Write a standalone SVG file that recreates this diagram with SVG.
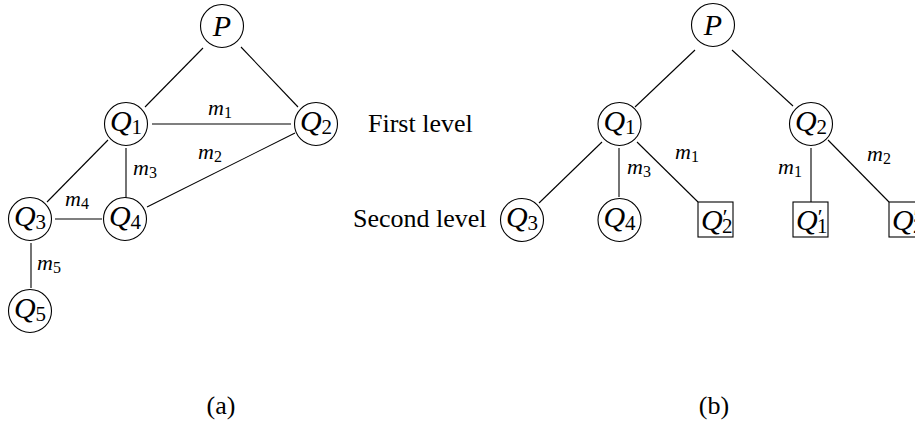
<svg xmlns="http://www.w3.org/2000/svg" width="915" height="426" viewBox="0 0 915 426">
  <style>
    .node { fill: #fff; stroke: #000; stroke-width: 1.1; }
    .edge { stroke: #000; stroke-width: 1.1; fill: none; }
    .var { font-family: "Liberation Serif", "DejaVu Serif", serif; font-style: italic; font-size: 30px; fill: #000; }
    .sub { font-family: "Liberation Serif", "DejaVu Serif", serif; font-style: normal; font-size: 21px; }
    .prime { font-family: "Liberation Serif", "DejaVu Serif", serif; font-style: normal; font-size: 22px; }
    .lbl { font-family: "Liberation Serif", "DejaVu Serif", serif; font-style: italic; font-size: 22px; fill: #000; }
    .lsub { font-family: "Liberation Serif", "DejaVu Serif", serif; font-style: normal; font-size: 16px; }
    .txt { font-family: "Liberation Serif", "DejaVu Serif", serif; font-size: 26px; fill: #000; }
  </style>
  <rect width="915" height="426" fill="#fff"/>

  <!-- (a) graph: connectors -->
  <g id="edges-a">
    <line class="edge" x1="203" y1="48" x2="145" y2="107"/>
    <line class="edge" x1="241" y1="47" x2="298" y2="107"/>
    <line class="edge" x1="152" y1="124" x2="291" y2="124"/>
    <line class="edge" x1="108" y1="140" x2="47" y2="202"/>
    <line class="edge" x1="126" y1="148" x2="126" y2="198"/>
    <line class="edge" x1="295" y1="133" x2="147" y2="207"/>
    <line class="edge" x1="55" y1="219" x2="102" y2="219"/>
    <line class="edge" x1="31" y1="243" x2="31" y2="288"/>
  </g>
  <g id="edge-labels-a">
    <text class="lbl" x="208" y="115">m<tspan class="lsub" dy="3">1</tspan></text>
    <text class="lbl" x="198" y="159">m<tspan class="lsub" dy="3">2</tspan></text>
    <text class="lbl" x="133" y="175">m<tspan class="lsub" dy="3">3</tspan></text>
    <text class="lbl" x="65" y="206">m<tspan class="lsub" dy="3">4</tspan></text>
    <text class="lbl" x="37" y="270">m<tspan class="lsub" dy="3">5</tspan></text>
  </g>

  <!-- (a) graph: nodes -->
  <g id="a-P"><circle class="node" cx="222" cy="26" r="21.5"/><text class="var" x="222" y="36" text-anchor="middle">P</text></g>
  <g id="a-Q1"><circle class="node" cx="126" cy="124" r="21.5"/><text class="var" x="126" y="131" text-anchor="middle">Q<tspan class="sub" dy="3">1</tspan></text></g>
  <g id="a-Q2"><circle class="node" cx="316" cy="124" r="21.5"/><text class="var" x="316" y="131" text-anchor="middle">Q<tspan class="sub" dy="3">2</tspan></text></g>
  <g id="a-Q3"><circle class="node" cx="30" cy="219" r="21.5"/><text class="var" x="30" y="226" text-anchor="middle">Q<tspan class="sub" dy="3">3</tspan></text></g>
  <g id="a-Q4"><circle class="node" cx="125" cy="219" r="21.5"/><text class="var" x="125" y="226" text-anchor="middle">Q<tspan class="sub" dy="3">4</tspan></text></g>
  <g id="a-Q5"><circle class="node" cx="30" cy="311" r="21.5"/><text class="var" x="30" y="318" text-anchor="middle">Q<tspan class="sub" dy="3">5</tspan></text></g>

  <!-- (b) tree: connectors -->
  <g id="edges-b">
    <line class="edge" x1="695" y1="50" x2="635" y2="107"/>
    <line class="edge" x1="732" y1="50" x2="793" y2="106"/>
    <line class="edge" x1="602" y1="142" x2="539" y2="203"/>
    <line class="edge" x1="619" y1="148" x2="619" y2="197"/>
    <line class="edge" x1="637" y1="142" x2="698" y2="202"/>
    <line class="edge" x1="811" y1="148" x2="811" y2="202"/>
    <line class="edge" x1="828" y1="140" x2="889" y2="202"/>
  </g>
  <g id="edge-labels-b">
    <text class="lbl" x="627" y="174">m<tspan class="lsub" dy="3">3</tspan></text>
    <text class="lbl" x="675" y="159">m<tspan class="lsub" dy="3">1</tspan></text>
    <text class="lbl" x="778" y="174">m<tspan class="lsub" dy="3">1</tspan></text>
    <text class="lbl" x="867" y="161">m<tspan class="lsub" dy="3">2</tspan></text>
  </g>

  <!-- (b) tree: nodes -->
  <g id="b-P"><circle class="node" cx="713" cy="25" r="21.5"/><text class="var" x="713" y="35" text-anchor="middle">P</text></g>
  <g id="b-Q1"><circle class="node" cx="619.5" cy="124" r="21.5"/><text class="var" x="619.5" y="131" text-anchor="middle">Q<tspan class="sub" dy="3">1</tspan></text></g>
  <g id="b-Q2"><circle class="node" cx="811" cy="124" r="21.5"/><text class="var" x="811" y="131" text-anchor="middle">Q<tspan class="sub" dy="3">2</tspan></text></g>
  <g id="b-Q3"><circle class="node" cx="522" cy="220" r="21.5"/><text class="var" x="522" y="227" text-anchor="middle">Q<tspan class="sub" dy="3">3</tspan></text></g>
  <g id="b-Q4"><circle class="node" cx="619.5" cy="220" r="21.5"/><text class="var" x="619.5" y="227" text-anchor="middle">Q<tspan class="sub" dy="3">4</tspan></text></g>
  <g id="b-Q2p"><rect class="node" x="698" y="202" width="35" height="35"/><text class="var" x="701" y="230">Q<tspan class="prime" dy="-6">′</tspan><tspan class="sub" x="722" dy="9">2</tspan></text></g>
  <g id="b-Q1p"><rect class="node" x="793" y="202" width="35" height="35"/><text class="var" x="796" y="230">Q<tspan class="prime" dy="-6">′</tspan><tspan class="sub" x="817" dy="9">1</tspan></text></g>
  <g id="b-Q2p-2"><rect class="node" x="889" y="202" width="35" height="35"/><text class="var" x="892" y="230">Q<tspan class="prime" dy="-6">′</tspan><tspan class="sub" x="913" dy="9">2</tspan></text></g>

  <!-- level captions and panel labels -->
  <g id="captions">
    <text class="txt" x="368" y="132">First level</text>
    <text class="txt" x="353" y="227">Second level</text>
    <text class="txt" x="221" y="414" text-anchor="middle">(a)</text>
    <text class="txt" x="714" y="414" text-anchor="middle">(b)</text>
  </g>
</svg>
